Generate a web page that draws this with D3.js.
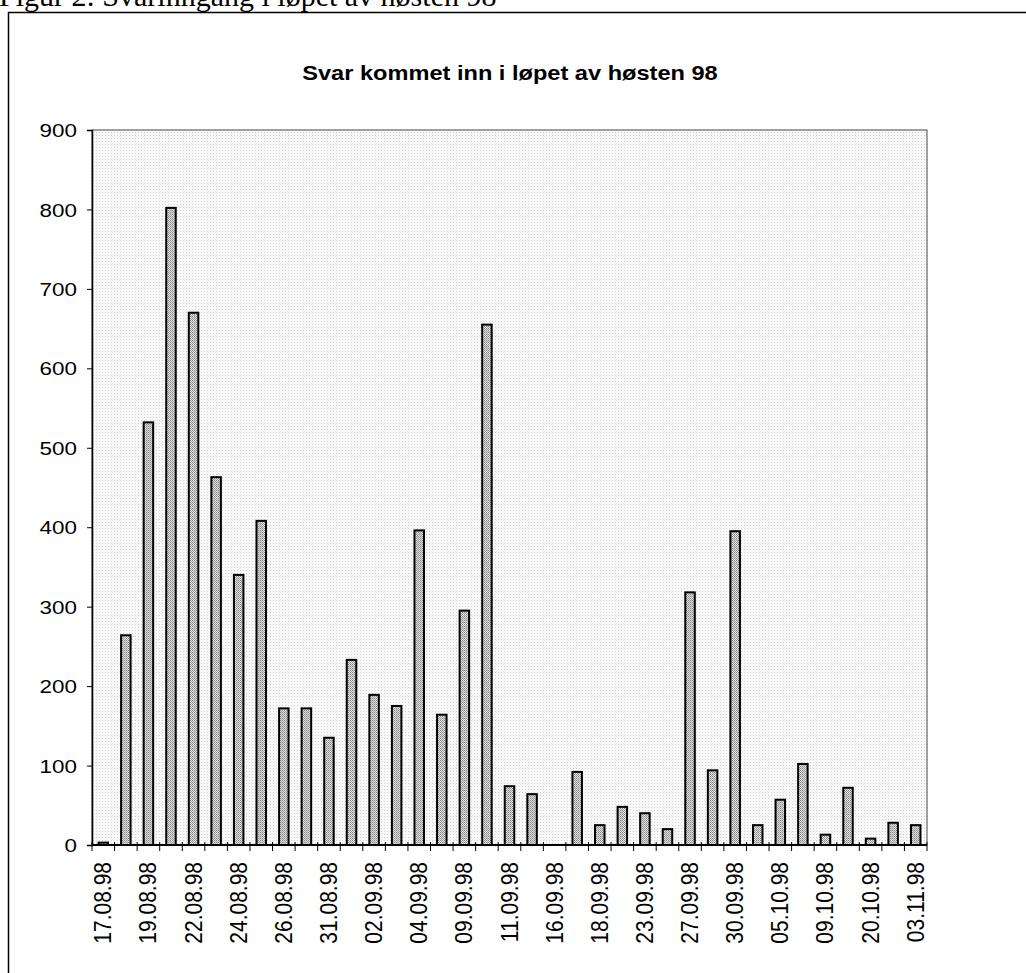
<!DOCTYPE html>
<html>
<head>
<meta charset="utf-8">
<script src="https://cdn.jsdelivr.net/npm/d3@7/dist/d3.min.js"></script>
<style>
  html, body { margin: 0; padding: 0; background: #fff; }
  svg { display: block; }
</style>
</head>
<body>
<svg id="chart" width="1026" height="973"></svg>
<script>
// Incoming responses per registration date, autumn 1998
const dates = [
  "17.08.98", "18.08.98", "19.08.98", "21.08.98", "22.08.98", "23.08.98",
  "24.08.98", "25.08.98", "26.08.98", "27.08.98", "31.08.98", "01.09.98",
  "02.09.98", "03.09.98", "04.09.98", "08.09.98", "09.09.98", "10.09.98",
  "11.09.98", "14.09.98", "16.09.98", "17.09.98", "18.09.98", "22.09.98",
  "23.09.98", "25.09.98", "27.09.98", "28.09.98", "30.09.98", "02.10.98",
  "05.10.98", "06.10.98", "09.10.98", "14.10.98", "20.10.98", "27.10.98",
  "03.11.98"
];
const responses = [
  3, 264, 532, 802, 670, 463,
  340, 408, 172, 172, 135, 233,
  189, 175, 396, 164, 295, 655,
  74, 64, 0, 92, 25, 48,
  40, 20, 318, 94, 395, 25,
  57, 102, 13, 72, 8, 28,
  25
];
const yTicks = [0, 100, 200, 300, 400, 500, 600, 700, 800, 900];

const caption = "Figur 2: Svarinngang i løpet av høsten 98";
const title = "Svar kommet inn i løpet av høsten 98";

const sansFont = "'Liberation Sans', Arial, sans-serif";
const widen = 1.18; // glyphs are drawn slightly wide

const svg = d3.select("#chart");
const plot = { left: 92, right: 927, top: 130, bottom: 845 };

// stipple textures
const defs = svg.append("defs");
const bg = defs.append("pattern").attr("id", "bgDots")
  .attr("width", 3).attr("height", 3).attr("patternUnits", "userSpaceOnUse");
bg.append("rect").attr("width", 3).attr("height", 3).attr("fill", "#f8f8f8");
bg.append("rect").attr("x", 0).attr("y", 0).attr("width", 1).attr("height", 1).attr("fill", "#d2d2d2");
const barPat = defs.append("pattern").attr("id", "barDots")
  .attr("width", 2).attr("height", 2).attr("patternUnits", "userSpaceOnUse");
barPat.append("rect").attr("width", 2).attr("height", 2).attr("fill", "#dedede");
barPat.append("rect").attr("x", 0).attr("y", 0).attr("width", 1).attr("height", 1).attr("fill", "#888");
barPat.append("rect").attr("x", 1).attr("y", 1).attr("width", 1).attr("height", 1).attr("fill", "#a4a4a4");

// caption above the frame
svg.append("text")
  .attr("x", -1).attr("y", 6)
  .attr("font-family", "'Liberation Serif', 'Times New Roman', serif")
  .attr("font-size", 30)
  .attr("fill", "#000")
  .text(caption);

// outer frame
svg.append("line").attr("x1", 8).attr("x2", 1026).attr("y1", 12.5).attr("y2", 12.5)
  .attr("stroke", "#000").attr("stroke-width", 1.5);
svg.append("line").attr("x1", 8.5).attr("x2", 8.5).attr("y1", 12).attr("y2", 973)
  .attr("stroke", "#000").attr("stroke-width", 1.5);

// chart title
svg.append("text")
  .attr("transform", `translate(510,80) scale(${widen},1)`)
  .attr("text-anchor", "middle")
  .attr("font-family", sansFont)
  .attr("font-weight", "bold")
  .attr("font-size", 20)
  .attr("fill", "#000")
  .text(title);

const xCat = d3.scaleBand().domain(dates).range([plot.left, plot.right]);
const y = d3.scaleLinear().domain([0, 900]).range([plot.bottom, plot.top]);

// plot area
svg.append("rect")
  .attr("x", plot.left).attr("y", plot.top)
  .attr("width", plot.right - plot.left).attr("height", plot.bottom - plot.top)
  .attr("fill", "url(#bgDots)")
  .attr("stroke", "#444").attr("stroke-width", 1);

// bars
const barW = 9.5;
svg.append("g").selectAll("rect").data(dates).join("rect")
  .attr("x", (d) => xCat(d) + xCat.bandwidth() / 2 - barW / 2)
  .attr("width", barW)
  .attr("y", (d, i) => y(responses[i]))
  .attr("height", (d, i) => y(0) - y(responses[i]))
  .attr("fill", "url(#barDots)")
  .attr("stroke", "#000")
  .attr("stroke-width", 2);

// y axis
const yAxis = d3.axisLeft(y).tickValues(yTicks).tickSize(5).tickFormat("");
const gy = svg.append("g").attr("transform", `translate(${plot.left},0)`).call(yAxis);
gy.select(".domain").attr("stroke", "#000").attr("stroke-width", 1.5);
gy.selectAll(".tick line").attr("stroke", "#000");
gy.selectAll(".tick").append("text")
  .attr("transform", `translate(-15,0) scale(${widen},1)`)
  .attr("dy", "0.35em")
  .attr("text-anchor", "end")
  .attr("font-family", sansFont)
  .attr("font-size", 19)
  .attr("fill", "#000")
  .text((d) => d3.format("d")(d));

// x axis: ticks between categories, labels on every second date
const boundaries = dates.map((d) => xCat(d)).concat([plot.right]);
const gx = svg.append("g");
gx.append("line")
  .attr("x1", plot.left).attr("x2", plot.right)
  .attr("y1", plot.bottom).attr("y2", plot.bottom)
  .attr("stroke", "#000").attr("stroke-width", 2);
gx.selectAll("line.tick").data(boundaries).join("line")
  .attr("class", "tick")
  .attr("x1", (d) => d).attr("x2", (d) => d)
  .attr("y1", plot.bottom - 3).attr("y2", plot.bottom + 6)
  .attr("stroke", "#000").attr("stroke-width", 1);
gx.selectAll("text").data(dates.filter((d, i) => i % 2 === 0)).join("text")
  .attr("transform", (d) => `translate(${xCat(d) + xCat.bandwidth() / 2 + 8},${plot.bottom + 17}) scale(${widen},1) rotate(-90)`)
  .attr("text-anchor", "end")
  .attr("font-family", sansFont)
  .attr("font-size", 21)
  .attr("fill", "#000")
  .text((d) => d);
</script>
</body>
</html>
